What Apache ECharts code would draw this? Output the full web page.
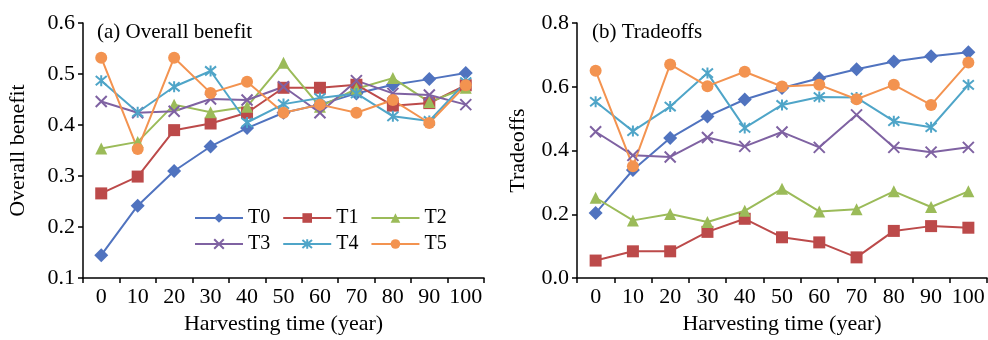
<!DOCTYPE html>
<html>
<head>
<meta charset="utf-8">
<script src="https://cdn.jsdelivr.net/npm/echarts@6/dist/echarts.min.js"></script>
<style>
  html, body { margin: 0; padding: 0; background: #fff; }
  #chart { width: 988px; height: 340px; }
</style>
</head>
<body>
<div id="chart"></div>
<script>
  // harvesting time categories
  const years = ['0', '10', '20', '30', '40', '50', '60', '70', '80', '90', '100'];
  const names = ['T0', 'T1', 'T2', 'T3', 'T4', 'T5'];

  // (a) overall benefit
  const benefitT0 = [0.145, 0.242, 0.310, 0.358, 0.394, 0.424, 0.440, 0.462, 0.479, 0.490, 0.502];
  const benefitT1 = [0.266, 0.299, 0.390, 0.403, 0.424, 0.473, 0.473, 0.479, 0.438, 0.443, 0.478];
  const benefitT2 = [0.354, 0.367, 0.440, 0.425, 0.436, 0.522, 0.436, 0.471, 0.492, 0.445, 0.473];
  const benefitT3 = [0.446, 0.424, 0.427, 0.451, 0.449, 0.475, 0.424, 0.487, 0.462, 0.459, 0.440];
  const benefitT4 = [0.487, 0.425, 0.475, 0.506, 0.405, 0.441, 0.453, 0.462, 0.417, 0.408, 0.484];
  const benefitT5 = [0.532, 0.353, 0.532, 0.463, 0.485, 0.424, 0.440, 0.424, 0.449, 0.404, 0.478];

  // (b) tradeoffs
  const tradeT0 = [0.204, 0.339, 0.439, 0.507, 0.560, 0.596, 0.627, 0.655, 0.679, 0.696, 0.708];
  const tradeT1 = [0.055, 0.084, 0.084, 0.145, 0.186, 0.128, 0.112, 0.065, 0.148, 0.163, 0.158];
  const tradeT2 = [0.252, 0.181, 0.201, 0.176, 0.211, 0.280, 0.209, 0.216, 0.272, 0.223, 0.272];
  const tradeT3 = [0.459, 0.385, 0.380, 0.441, 0.413, 0.458, 0.410, 0.512, 0.410, 0.395, 0.410];
  const tradeT4 = [0.553, 0.461, 0.538, 0.643, 0.471, 0.543, 0.568, 0.566, 0.492, 0.473, 0.606];
  const tradeT5 = [0.650, 0.351, 0.670, 0.602, 0.647, 0.601, 0.606, 0.561, 0.606, 0.543, 0.676];

  const benefitData = [benefitT0, benefitT1, benefitT2, benefitT3, benefitT4, benefitT5];
  const tradeData = [tradeT0, tradeT1, tradeT2, tradeT3, tradeT4, tradeT5];

  const colors = ['#5073BF', '#BC4A4A', '#9BBB59', '#7F62A2', '#4FA5C8', '#F39350'];
  const symbols = [
    'diamond', 'rect', 'triangle',
    'path://M0,0L10,10M10,0L0,10',
    'path://M0,0L10,10M10,0L0,10M5,-1L5,11',
    'circle'
  ];
  const symbolSizes = [14, 12, 12, 11, 11, 12];
  const font = '"Liberation Serif", "Times New Roman", serif';

  function makeSeries(data, idx) {
    return data.map((vals, i) => {
      const stroked = i === 3 || i === 4;
      return {
        name: names[i],
        type: 'line',
        xAxisIndex: idx,
        yAxisIndex: idx,
        data: vals,
        symbol: symbols[i],
        symbolSize: symbolSizes[i],
        showAllSymbol: true,
        lineStyle: { color: colors[i], width: 2 },
        itemStyle: {
          color: colors[i],
          borderColor: stroked ? colors[i] : 'transparent',
          borderWidth: stroked ? 2 : 0,
          opacity: 1
        },
        emphasis: { disabled: true },
        animation: false
      };
    });
  }

  function xAxisOpt(idx) {
    return {
      type: 'category',
      gridIndex: idx,
      data: years,
      boundaryGap: true,
      name: 'Harvesting time (year)',
      nameLocation: 'middle',
      nameGap: 32,
      nameTextStyle: { fontFamily: font, fontSize: 22, color: '#000' },
      axisLine: { lineStyle: { color: '#000', width: 1.5 } },
      axisTick: { show: true, length: 5, inside: false, lineStyle: { color: '#000', width: 1.5 } },
      axisLabel: { fontFamily: font, fontSize: 22, color: '#000', margin: 8, interval: 0 },
      splitLine: { show: false }
    };
  }

  function yAxisOpt(idx, name, min, max, gap) {
    return {
      type: 'value',
      gridIndex: idx,
      min: min,
      max: max,
      interval: idx === 0 ? 0.1 : 0.2,
      name: name,
      nameLocation: 'middle',
      nameGap: gap,
      nameTextStyle: { fontFamily: font, fontSize: 22, color: '#000' },
      axisLine: { show: true, lineStyle: { color: '#000', width: 1.5 } },
      axisTick: { show: true, length: 5, inside: false, lineStyle: { color: '#000', width: 1.5 } },
      axisLabel: {
        fontFamily: font, fontSize: 22, color: '#000', margin: 8,
        formatter: v => v.toFixed(1)
      },
      splitLine: { show: false }
    };
  }

  const legendBase = {
    orient: 'horizontal',
    itemWidth: 48,
    itemHeight: 12,
    itemGap: 12,
    padding: 0,
    selectedMode: false,
    textStyle: { fontFamily: font, fontSize: 20, color: '#000', padding: [0, 0, 0, 0] }
  };

  const chart = echarts.init(document.getElementById('chart'));
  chart.setOption({
    animation: false,
    title: [
      { text: '(a) Overall benefit', left: 97, top: 22, padding: 0,
        textStyle: { fontFamily: font, fontSize: 21, fontWeight: 'normal', color: '#000' } },
      { text: '(b) Tradeoffs', left: 592, top: 22, padding: 0,
        textStyle: { fontFamily: font, fontSize: 21, fontWeight: 'normal', color: '#000' } }
    ],
    legend: [
      Object.assign({}, legendBase, { data: ['T0', 'T1', 'T2'], left: 194, top: 208 }),
      Object.assign({}, legendBase, { data: ['T3', 'T4', 'T5'], left: 194, top: 234 })
    ],
    grid: [
      { left: 83, top: 23, width: 401, height: 262 },
      { left: 577, top: 23, width: 410, height: 262 }
    ],
    xAxis: [xAxisOpt(0), xAxisOpt(1)],
    yAxis: [
      yAxisOpt(0, 'Overall benefit', 0.1, 0.6, 54),
      yAxisOpt(1, 'Tradeoffs', 0, 0.8, 48)
    ],
    series: makeSeries(benefitData, 0).concat(makeSeries(tradeData, 1))
  });
</script>
</body>
</html>
